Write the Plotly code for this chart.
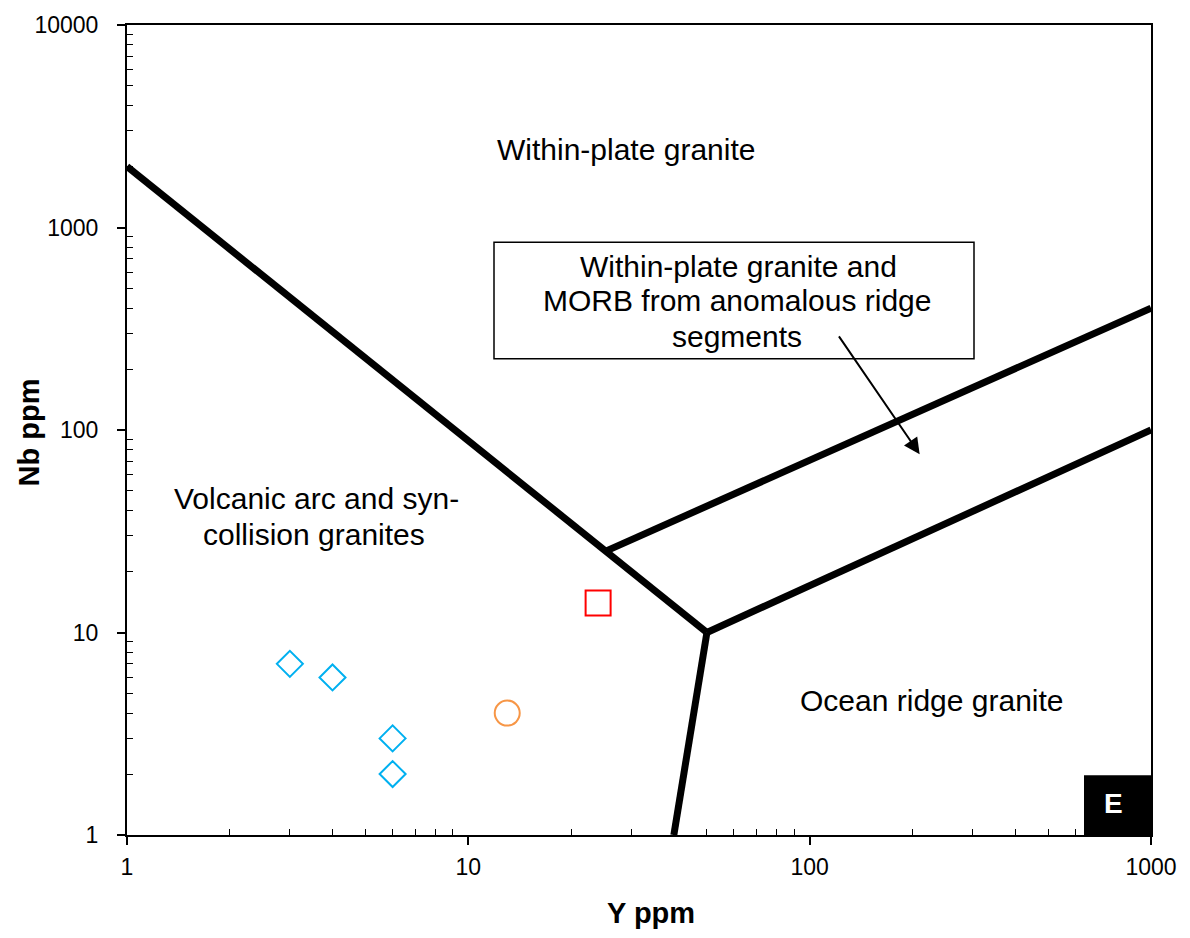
import math
import plotly.graph_objects as go

# ---------------- data ----------------
# sample points (Y ppm, Nb ppm)
diamond_y = [3, 4, 6, 6]
diamond_nb = [7, 6, 3, 2]
circle_y = [13]
circle_nb = [4]
square_y = [24]
square_nb = [14]

# Pearce et al. (1984) field boundaries (Y, Nb)
vag_wpg_y = [1, 50]
vag_wpg_nb = [2000, 10]
wpg_org_y = [25, 1000]
wpg_org_nb = [25, 400]
org_upper_y = [50, 1000]
org_upper_nb = [10, 100]
org_lower_y = [50, 40]
org_lower_nb = [10, 1]

tick_vals = [1, 10, 100, 1000, 10000]
tick_text = ["1", "10", "100", "1000", "10000"]

# ---------------- layout helpers ----------------
W, H = 1190, 938
L, R, T, B = 127, 39, 22, 103
PW, PH = W - L - R, H - T - B
FONT = "Liberation Sans, Arial, sans-serif"


def px(xp):
    return (xp - L) / PW


def py(yp):
    return (T + PH - yp) / PH


fig = go.Figure()

line_style = dict(color="black", width=7)
for xs, ys in [(vag_wpg_y, vag_wpg_nb), (wpg_org_y, wpg_org_nb),
               (org_upper_y, org_upper_nb), (org_lower_y, org_lower_nb)]:
    fig.add_trace(go.Scatter(x=xs, y=ys, mode="lines", line=line_style,
                             showlegend=False, hoverinfo="skip"))

fig.add_trace(go.Scatter(x=diamond_y, y=diamond_nb, mode="markers",
                         marker=dict(symbol="diamond-open", size=20, color="#00B0F0",
                                     line=dict(width=2, color="#00B0F0")),
                         showlegend=False))
fig.add_trace(go.Scatter(x=circle_y, y=circle_nb, mode="markers",
                         marker=dict(symbol="circle-open", size=25, color="#F79646",
                                     line=dict(width=2, color="#F79646")),
                         showlegend=False))
fig.add_trace(go.Scatter(x=square_y, y=square_nb, mode="markers",
                         marker=dict(symbol="square-open", size=25, color="#FF0000",
                                     line=dict(width=2, color="#FF0000")),
                         showlegend=False))

minor_vals = [m * 10 ** e for e in range(0, 4) for m in range(2, 10)]

axis_common = dict(
    type="log",
    showgrid=False,
    zeroline=False,
    showline=True,
    linecolor="black",
    linewidth=2,
    mirror=True,
    ticks="outside",
    ticklen=8,
    tickwidth=1.5,
    tickcolor="black",
    tickvals=tick_vals,
    ticktext=tick_text,
    tickfont=dict(family=FONT, size=23, color="black"),
    minor=dict(ticks="inside", ticklen=6, tickwidth=1.2, tickcolor="black",
               tickvals=minor_vals, showgrid=False),
)

fig.update_xaxes(**axis_common, range=[0, 3], ticklabelstandoff=2)
fig.update_yaxes(**axis_common, range=[0, 4], ticklabelstandoff=14)

shapes = [
    dict(type="rect", xref="paper", yref="paper", x0=px(494), x1=px(974),
         y0=py(357), y1=py(240), line=dict(color="black", width=1.5),
         fillcolor="white", layer="above"),
    dict(type="rect", xref="paper", yref="paper", x0=px(1084), x1=1.0,
         y0=0.0, y1=py(775), line=dict(color="black", width=0),
         fillcolor="black", layer="above"),
]

text_font = dict(family=FONT, size=30, color="black")
labels = [
    ("Within-plate granite", 626, 147),
    ("Volcanic arc and syn-", 316, 497),
    ("collision granites", 314, 533),
    ("Ocean ridge granite", 932, 700),
    ("Within-plate granite and", 738, 264),
    ("MORB from anomalous ridge", 737, 299),
    ("segments", 737, 335),
]
annotations = []
for txt, xp, yp in labels:
    annotations.append(dict(text=txt, xref="paper", yref="paper", x=px(xp), y=py(yp),
                            xanchor="center", yanchor="middle", showarrow=False,
                            font=text_font))

annotations.append(dict(text="<b>E</b>", xref="paper", yref="paper", x=px(1113), y=py(803),
                        xanchor="center", yanchor="middle", showarrow=False,
                        font=dict(family=FONT, size=28, color="white")))

# axis titles
title_font = dict(family=FONT, size=29, color="black")
annotations.append(dict(text="<b>Y ppm</b>", xref="paper", yref="paper", x=px(651), y=py(913),
                        xanchor="center", yanchor="middle", showarrow=False, font=title_font))
annotations.append(dict(text="<b>Nb ppm</b>", xref="paper", yref="paper", x=px(29), y=py(431),
                        xanchor="center", yanchor="middle", showarrow=False, font=title_font,
                        textangle=-90))

# arrow pointing into the WPG + anomalous MORB field
annotations.append(dict(text="", x=math.log10(210), y=math.log10(76),
                        ax=math.log10(121), ay=math.log10(295),
                        xref="x", yref="y", axref="x", ayref="y",
                        showarrow=True, arrowhead=2, arrowsize=1.6, arrowwidth=2,
                        arrowcolor="black", standoff=0, startstandoff=0))

fig.update_layout(
    width=W, height=H,
    margin=dict(l=L, r=R, t=T, b=B),
    plot_bgcolor="white",
    paper_bgcolor="white",
    shapes=shapes,
    annotations=annotations,
    showlegend=False,
)

fig.write_html(
    "out.html",
    config={"displayModeBar": False},
    post_script="document.body.style.margin='0';document.body.style.overflow='hidden';",
)
